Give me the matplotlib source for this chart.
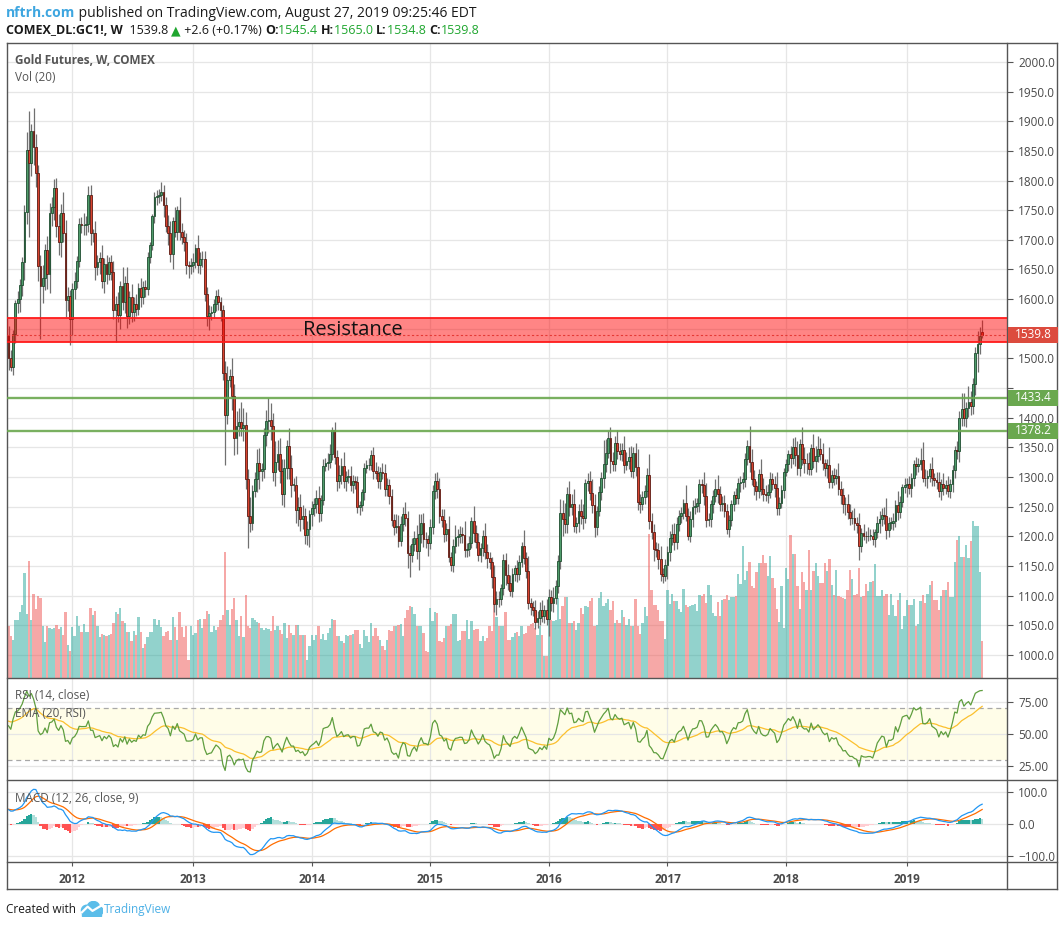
import numpy as np
import pandas as pd
import matplotlib
matplotlib.use("Agg")
import matplotlib.pyplot as plt
from matplotlib.lines import Line2D
from matplotlib.patches import Rectangle, Circle
from matplotlib.ticker import FuncFormatter
from matplotlib.transforms import blended_transform_factory

plt.rcParams["font.family"] = ["Open Sans", "DejaVu Sans"]

W, H = 1064, 926

# ---------------- data (weekly, COMEX gold continuous) ----------------
# history before the visible window, only used to warm up RSI / MACD
warmup_close = [1210, 1181, 1189, 1169, 1204, 1215, 1227, 1237, 1246, 1246,
                1275, 1297, 1317, 1346, 1370, 1325, 1358, 1394, 1366, 1353,
                1362, 1406, 1385, 1376, 1380, 1421, 1369, 1361, 1342, 1341,
                1348, 1360, 1388, 1409, 1429, 1421, 1418, 1428, 1429, 1474,
                1486, 1505, 1556, 1491, 1493, 1510, 1536, 1542, 1529, 1540]

close_2011 = [1500, 1486, 1542, 1594, 1601, 1624, 1663, 1747, 1852, 1829,
              1883, 1857, 1813, 1656, 1622, 1635, 1683, 1643, 1746, 1755,
              1788, 1724, 1697, 1746, 1711, 1598, 1606, 1566]
close_2012 = [1617, 1631, 1664, 1727, 1725, 1725, 1726, 1776, 1711, 1711,
              1655, 1662, 1669, 1631, 1659, 1642, 1663, 1645, 1581, 1592,
              1573, 1622, 1595, 1627, 1572, 1604, 1579, 1591, 1583, 1619,
              1603, 1620, 1617, 1671, 1691, 1740, 1772, 1774, 1776, 1780,
              1758, 1724, 1712, 1676, 1731, 1714, 1751, 1714, 1705, 1696,
              1657, 1656]
close_2013 = [1657, 1662, 1687, 1658, 1667, 1667, 1609, 1572, 1576, 1578,
              1592, 1605, 1596, 1581, 1476, 1405, 1463, 1470, 1437, 1365,
              1386, 1392, 1383, 1387, 1296, 1234, 1223, 1277, 1296, 1323,
              1310, 1313, 1371, 1395, 1396, 1386, 1308, 1326, 1338, 1310,
              1272, 1315, 1352, 1315, 1287, 1287, 1244, 1250, 1229, 1234,
              1203, 1213]
close_2014 = [1237, 1247, 1254, 1264, 1240, 1262, 1318, 1323, 1326, 1339,
              1379, 1334, 1294, 1303, 1318, 1293, 1300, 1302, 1287, 1293,
              1292, 1250, 1252, 1274, 1316, 1320, 1320, 1337, 1310, 1307,
              1294, 1309, 1306, 1280, 1287, 1268, 1228, 1215, 1218, 1192,
              1221, 1238, 1231, 1171, 1168, 1187, 1197, 1175, 1204, 1222,
              1196, 1195]
close_2015 = [1189, 1216, 1277, 1293, 1279, 1234, 1228, 1204, 1213, 1165,
              1152, 1184, 1199, 1201, 1204, 1203, 1177, 1179, 1189, 1225,
              1205, 1190, 1168, 1180, 1201, 1173, 1163, 1157, 1131, 1085,
              1095, 1094, 1113, 1160, 1134, 1121, 1108, 1137, 1146, 1137,
              1156, 1183, 1163, 1142, 1088, 1081, 1076, 1056, 1062, 1075,
              1065, 1076, 1061]
close_2016 = [1097, 1088, 1096, 1117, 1158, 1239, 1230, 1221, 1271, 1250,
              1254, 1218, 1222, 1243, 1235, 1231, 1290, 1294, 1273, 1252,
              1215, 1243, 1275, 1298, 1322, 1340, 1366, 1327, 1322, 1357,
              1344, 1339, 1345, 1321, 1327, 1333, 1310, 1341, 1317, 1258,
              1254, 1267, 1276, 1304, 1226, 1208, 1178, 1177, 1162, 1137,
              1133, 1152]
close_2017 = [1173, 1197, 1204, 1191, 1221, 1234, 1239, 1257, 1234, 1201,
              1230, 1249, 1251, 1257, 1288, 1287, 1268, 1228, 1229, 1254,
              1268, 1280, 1271, 1255, 1256, 1242, 1212, 1228, 1255, 1269,
              1264, 1290, 1291, 1297, 1330, 1352, 1325, 1297, 1284, 1276,
              1305, 1280, 1272, 1270, 1275, 1296, 1288, 1281, 1248, 1257,
              1278, 1309]
close_2018 = [1322, 1338, 1332, 1350, 1337, 1316, 1356, 1330, 1323, 1324,
              1313, 1349, 1327, 1336, 1347, 1338, 1323, 1315, 1320, 1291,
              1303, 1298, 1302, 1279, 1270, 1254, 1255, 1241, 1231, 1231,
              1223, 1219, 1184, 1206, 1201, 1200, 1201, 1201, 1196, 1207,
              1222, 1229, 1236, 1234, 1210, 1223, 1223, 1226, 1252, 1241,
              1258, 1283]
close_2019 = [1287, 1289, 1282, 1298, 1322, 1318, 1322, 1329, 1299, 1298,
              1302, 1313, 1298, 1295, 1291, 1276, 1288, 1281, 1287, 1276,
              1289, 1311, 1346, 1344, 1400, 1414, 1400, 1416, 1427, 1420,
              1457, 1509, 1524, 1537.2, 1539.8]

# upper / lower shadow beyond the body, in $
wick_up = [
    14, 14, 6, 4, 12, 10, 8, 12, 30, 65, 12, 40, 22, 14, 18, 22, 10, 24, 16, 18,
    14, 16, 20, 14, 34, 22, 14, 10,
    10, 14, 8, 10, 12, 20, 14, 14, 16, 8, 20, 12, 10, 22, 10, 16, 8, 12, 20, 14,
    20, 8, 32, 12, 28, 10, 22, 12, 18, 8, 16, 10, 12, 8, 6, 4, 8, 10, 10, 18,
    12, 14, 18, 20, 8, 24, 6, 22, 14, 12, 16, 8,
    12, 16, 6, 22, 12, 14, 14, 12, 14, 10, 8, 10, 12, 8, 9, 20, 24, 12, 30, 20,
    26, 24, 34, 30, 22, 18, 32, 10, 12, 25, 26, 10, 12, 18, 38, 28, 22, 34, 24, 28,
    20, 16, 10, 30, 22, 12, 14, 16, 22, 18, 14, 12,
    8, 12, 10, 14, 20, 8, 12, 9, 14, 16, 6, 13, 12, 18, 14, 24, 10, 12, 16, 10,
    8, 10, 8, 6, 8, 9, 12, 9, 14, 16, 12, 8, 14, 16, 12, 10, 12, 10, 20, 18,
    14, 12, 20, 12, 14, 10, 12, 22, 34, 16, 18, 12,
    8, 14, 10, 14, 16, 20, 12, 18, 10, 22, 8, 12, 20, 12, 14, 12, 22, 10, 12, 8,
    26, 14, 16, 8, 10, 22, 14, 10, 8, 20, 12, 12, 6, 10, 12, 20, 14, 10, 6, 14,
    12, 8, 28, 10, 24, 8, 10, 16, 12, 14, 18, 8, 18,
    14, 12, 18, 10, 10, 24, 22, 26, 12, 22, 18, 26, 10, 12, 20, 20, 6, 12, 16, 24,
    20, 8, 10, 10, 40, 24, 11, 18, 16, 12, 22, 14, 12, 24, 16, 18, 20, 10, 16, 30,
    14, 10, 10, 12, 34, 14, 12, 12, 12, 22, 10, 10,
    10, 12, 16, 18, 12, 10, 10, 6, 30, 14, 12, 12, 14, 8, 8, 8, 22, 22, 10, 8,
    10, 16, 24, 14, 12, 14, 12, 8, 6, 8, 12, 8, 10, 12, 10, 10, 34, 22, 14, 10,
    8, 26, 18, 14, 14, 12, 10, 14, 28, 10, 8, 6,
    8, 8, 14, 16, 18, 24, 8, 28, 20, 16, 18, 6, 24, 16, 22, 18, 20, 8, 10, 30,
    8, 12, 12, 22, 14, 12, 12, 16, 14, 14, 16, 10, 20, 8, 14, 8, 14, 12, 12, 6,
    12, 14, 12, 14, 30, 10, 10, 14, 10, 24, 10, 6,
    12, 10, 12, 8, 6, 12, 10, 20, 30, 14, 10, 10, 20, 8, 14, 18, 8, 18, 8, 14,
    8, 10, 6, 14, 12, 28, 28, 10, 26, 18, 10, 10, 22, 16, 0]
wick_dn = [
    20, 8, 14, 16, 18, 22, 18, 30, 20, 124, 22, 30, 24, 26, 90, 28, 20, 26, 32, 22,
    22, 20, 22, 26, 14, 28, 18, 43,
    26, 16, 12, 10, 14, 16, 16, 12, 20, 14, 22, 14, 20, 12, 20, 16, 10, 12, 14, 54,
    12, 24, 14, 18, 20, 14, 18, 16, 12, 10, 16, 12, 14, 10, 10, 8, 12, 14, 12, 10,
    20, 10, 20, 14, 26, 10, 14, 14, 12, 14, 14, 20,
    14, 12, 10, 14, 16, 12, 12, 18, 24, 12, 10, 12, 14, 18, 12, 84, 16, 12, 24, 28,
    26, 16, 14, 22, 16, 54, 16, 12, 10, 22, 30, 16, 14, 18, 20, 24, 14, 24, 14, 20,
    20, 22, 18, 18, 20, 10, 22, 26, 20, 16, 16, 18,
    31, 20, 12, 14, 16, 14, 10, 8, 12, 10, 10, 12, 18, 12, 14, 12, 16, 10, 10, 14,
    12, 10, 14, 10, 12, 10, 8, 8, 14, 10, 12, 14, 10, 12, 12, 14, 10, 12, 10, 10,
    8, 12, 14, 24, 36, 12, 12, 14, 32, 16, 14, 14,
    22, 10, 12, 14, 14, 12, 12, 14, 12, 8, 10, 12, 12, 16, 12, 14, 12, 12, 12, 8,
    14, 10, 10, 12, 14, 12, 16, 12, 18, 13, 18, 14, 10, 12, 16, 12, 8, 10, 12, 14,
    10, 8, 10, 12, 10, 14, 10, 12, 10, 12, 10, 12, 10,
    30, 14, 16, 10, 12, 14, 30, 16, 16, 16, 14, 10, 12, 14, 14, 18, 8, 14, 12, 12,
    16, 12, 8, 14, 16, 14, 8, 20, 12, 12, 14, 10, 12, 14, 10, 14, 10, 12, 16, 14,
    14, 10, 12, 10, 14, 12, 20, 12, 18, 13, 12, 8,
    24, 14, 12, 14, 12, 12, 12, 10, 8, 8, 10, 14, 12, 10, 16, 14, 16, 12, 10, 14,
    14, 10, 14, 12, 12, 10, 8, 14, 10, 12, 10, 10, 16, 12, 14, 10, 16, 10, 14, 14,
    12, 10, 12, 10, 14, 10, 10, 14, 12, 12, 10, 14,
    8, 12, 16, 10, 18, 12, 14, 10, 16, 18, 10, 10, 12, 18, 10, 10, 12, 14, 16, 10,
    10, 12, 10, 10, 16, 14, 18, 12, 12, 10, 12, 14, 24, 10, 8, 12, 8, 8, 10, 14,
    10, 16, 12, 14, 14, 12, 10, 12, 10, 14, 10, 8,
    10, 20, 10, 16, 14, 14, 10, 10, 8, 14, 16, 10, 14, 10, 12, 10, 14, 12, 10, 10,
    12, 14, 12, 14, 18, 14, 14, 16, 14, 16, 14, 18, 32, 16, 0]

# weekly volume (relative units)
vol_2011 = [52, 42, 38, 58, 58, 66, 73, 105, 64, 117, 58, 84, 69, 82, 80, 52,
            36, 52, 50, 49, 50, 53, 49, 51, 43, 66, 33, 27]
vol_2012 = [51, 42, 62, 52, 46, 54, 46, 46, 70, 63, 67, 52, 41, 44, 43, 42,
            43, 44, 55, 66, 64, 70, 57, 55, 46, 46, 37, 47, 43, 61, 46, 30,
            34, 41, 46, 46, 59, 53, 58, 51, 42, 46, 47, 38, 61, 51, 38, 66,
            51, 41, 52, 18]
vol_2013 = [52, 43, 45, 58, 59, 50, 59, 67, 64, 46, 52, 48, 51, 58, 63, 126,
            68, 53, 69, 80, 58, 42, 62, 41, 83, 52, 50, 60, 58, 56, 55, 50,
            48, 50, 49, 47, 62, 48, 52, 48, 44, 55, 40, 53, 45, 43, 53, 53,
            43, 43, 43, 18]
vol_2014 = [32, 43, 38, 43, 52, 39, 44, 38, 45, 50, 59, 58, 42, 42, 37, 35,
            43, 42, 43, 44, 48, 48, 34, 30, 48, 42, 36, 55, 42, 50, 42, 38,
            32, 28, 38, 48, 47, 52, 52, 53, 54, 42, 60, 68, 72, 71, 64, 52,
            52, 52, 45, 27]
vol_2015 = [26, 70, 57, 66, 65, 37, 36, 40, 52, 52, 54, 64, 64, 37, 38, 47,
            47, 58, 39, 57, 48, 49, 49, 37, 42, 37, 40, 52, 47, 73, 61, 52,
            52, 52, 66, 38, 38, 41, 45, 46, 42, 52, 44, 45, 52, 54, 55, 50,
            43, 52, 43, 22, 22]
vol_2016 = [59, 58, 57, 58, 80, 59, 72, 81, 81, 55, 55, 57, 48, 55, 70, 64,
            72, 71, 77, 80, 52, 53, 80, 86, 72, 75, 79, 68, 77, 55, 58, 55,
            68, 61, 53, 59, 52, 52, 79, 52, 44, 55, 71, 62, 144, 88, 73, 73,
            68, 57, 57, 39]
vol_2017 = [88, 74, 84, 77, 77, 69, 66, 89, 73, 71, 72, 73, 74, 67, 83, 82,
            84, 75, 93, 83, 65, 62, 76, 62, 78, 79, 83, 78, 81, 81, 82, 104,
            94, 132, 98, 107, 116, 92, 90, 106, 115, 115, 123, 115, 102, 122, 100, 90,
            69, 56, 92, 50]
vol_2018 = [110, 99, 143, 124, 124, 92, 69, 106, 96, 88, 128, 88, 107, 115, 102, 95,
            95, 115, 107, 119, 93, 83, 108, 82, 81, 80, 79, 88, 108, 99, 83, 84,
            110, 81, 82, 94, 87, 96, 97, 114, 82, 82, 88, 82, 84, 63, 84, 73,
            62, 78, 85, 49]
vol_2019 = [62, 78, 73, 73, 79, 52, 54, 77, 83, 75, 84, 93, 97, 78, 78, 68,
            82, 88, 88, 96, 81, 81, 116, 138, 142, 121, 121, 133, 120, 137, 157, 152,
            152, 106, 37]

# last (current) bar as shown in the header
last_open, last_high, last_low = 1545.4, 1565.0, 1534.8

resistance_zone = (1528, 1568)
support_levels = [1433.4, 1378.2]
price_ticks = np.arange(1000, 2001, 50)
rsi_ticks = [25, 50, 75]
macd_ticks = [-100, 0, 100]

# ---------------- prepare ----------------
close_list = (close_2011 + close_2012 + close_2013 + close_2014 + close_2015
              + close_2016 + close_2017 + close_2018 + close_2019)
volume = np.array(vol_2011 + vol_2012 + vol_2013 + vol_2014 + vol_2015
                  + vol_2016 + vol_2017 + vol_2018 + vol_2019, float)
n_warm = len(warmup_close)
full = np.array(warmup_close + close_list, float)
close = full[n_warm:]
n = len(close)
opens = full[n_warm - 1:-1].copy()
opens[-1] = last_open
highs = np.maximum(opens, close) + np.array(wick_up, float)
lows = np.minimum(opens, close) - np.array(wick_dn, float)
highs[-1], lows[-1] = last_high, last_low
x = np.arange(n)
dates = pd.date_range("2011-06-20", periods=n, freq="W-MON")
year_idx = [i for i in range(1, n) if dates[i].year != dates[i - 1].year]
year_lbl = [str(dates[i].year) for i in year_idx]

# RSI(14) with Wilder smoothing, EMA(20) of it
s = pd.Series(full)
d = s.diff()
gain = d.clip(lower=0).ewm(alpha=1 / 14, adjust=False).mean()
loss = (-d.clip(upper=0)).ewm(alpha=1 / 14, adjust=False).mean()
rsi_full = 100 - 100 / (1 + gain / loss)
rsi_ema_full = rsi_full.ewm(span=20, adjust=False).mean()
rsi = rsi_full.values[n_warm:]
rsi_ema = rsi_ema_full.values[n_warm:]

# MACD(12, 26, 9)
macd_full = s.ewm(span=12, adjust=False).mean() - s.ewm(span=26, adjust=False).mean()
signal_full = macd_full.ewm(span=9, adjust=False).mean()
hist_full = macd_full - signal_full
macd = macd_full.values[n_warm:]
signal = signal_full.values[n_warm:]
hist = hist_full.values[n_warm:]
hist_prev = hist_full.values[n_warm - 1:-1]

# ---------------- figure ----------------
fig = plt.figure(figsize=(W / 100, H / 100), dpi=100, facecolor="white")

grid_c = "#e6e6e6"
frame_c = "#555555"
label_c = "#4a4a4a"
xlim = (-0.66, 437.9)


def rect(top, bottom):
    return [7 / W, 1 - bottom / H, 1000 / W, (bottom - top) / H]


def clean(ax):
    for sp in ax.spines.values():
        sp.set_visible(False)
    ax.set_xlim(*xlim)


ax_g = fig.add_axes(rect(43, 678), zorder=0)
ax_v = fig.add_axes(rect(43, 678), zorder=1)
ax_p = fig.add_axes(rect(43, 678), zorder=2)
ax_r = fig.add_axes(rect(678, 780))
ax_m = fig.add_axes(rect(780, 862))

# grid layer
clean(ax_g)
ax_g.set_ylim(961, 2032)
for p in price_ticks:
    ax_g.axhline(p, color=grid_c, lw=0.9)
for yi in year_idx:
    ax_g.axvline(yi, color=grid_c, lw=0.9)
ax_g.set_xticks([])
ax_g.set_yticks([])

# volume layer
clean(ax_v)
ax_v.patch.set_visible(False)
ax_v.set_ylim(0, 635)
is_up = close >= opens
vol_col = np.where(is_up, "#26a69a", "#ef5350")
ax_v.bar(x, volume, width=1.0, color=vol_col, alpha=0.5, linewidth=0)
ax_v.set_xticks([])
ax_v.set_yticks([])

# price layer
clean(ax_p)
ax_p.patch.set_visible(False)
ax_p.set_ylim(961, 2032)
ax_p.vlines(x, lows, highs, colors="#707070", lw=0.9, zorder=2)
body_lo = np.minimum(opens, close)
body_h = np.maximum(np.abs(close - opens), 0.6)
ax_p.bar(x, body_h, bottom=body_lo, width=0.8,
         color=np.where(is_up, "#4f9c6b", "#d9432f"),
         edgecolor=np.where(is_up, "#1f4d30", "#5c1a12"),
         linewidth=0.6, zorder=3)

ax_p.axhspan(*resistance_zone, facecolor="#ff0000", alpha=0.48, lw=0, zorder=4)
for lvl in resistance_zone:
    ax_p.axhline(lvl, color="#ff1a1a", lw=1.3, zorder=5)
ax_p.axhline(close[-1], color="#e53935", lw=0.8, ls=(0, (2, 2)), zorder=5)
ax_p.text(151, sum(resistance_zone) / 2, "Resistance", fontsize=14.5,
          color="#111111", ha="center", va="center", zorder=6)
for lvl in support_levels:
    ax_p.axhline(lvl, color="#6aa84f", lw=1.7, alpha=0.9, zorder=5)

# price scale; the labels that sit under the tags are left blank
hidden = (1550, 1450)
ax_p.yaxis.tick_right()
ax_p.set_yticks(price_ticks)
ax_p.yaxis.set_major_formatter(
    FuncFormatter(lambda v, _: "" if round(v) in hidden else f"{v:.1f}"))
ax_p.tick_params(axis="y", length=4, width=0.8, color=frame_c,
                 labelcolor=label_c, labelsize=8.5, pad=4)
ax_p.set_xticks([])

# right-axis price tags
tag_tr = blended_transform_factory(ax_p.transAxes, ax_p.transData)
for lvl, fc in [(close[-1], "#dc4b3e"), (support_levels[0], "#6aa84f"),
                (support_levels[1], "#6aa84f")]:
    ax_p.add_patch(Rectangle((1.001, lvl - 13.5), 0.05, 27, transform=tag_tr,
                             facecolor=fc, edgecolor="none", clip_on=False,
                             zorder=7))
    ax_p.text(1.026, lvl, f"{lvl:.1f}", transform=tag_tr, color="white",
              fontsize=8.5, ha="center", va="center", clip_on=False, zorder=8)

ax_p.text(8 / 1000, 0.973, "Gold Futures, W, COMEX",
          transform=ax_p.transAxes, fontsize=8.5, fontweight="bold",
          color="#555555", va="center")
ax_p.text(8 / 1000, 0.946, "Vol (20)", transform=ax_p.transAxes,
          fontsize=8.5, color="#555555", va="center")

# RSI panel
clean(ax_r)
ax_r.set_ylim(14.1, 93.75)
ax_r.axhspan(30, 70, facecolor="#fffde8", lw=0, zorder=0)
for v in rsi_ticks:
    ax_r.axhline(v, color=grid_c, lw=0.9, zorder=0.5)
for yi in year_idx:
    ax_r.axvline(yi, color=grid_c, lw=0.9, zorder=0.5)
for v in (30, 70):
    ax_r.axhline(v, color="#a8a8a8", lw=0.9, ls=(0, (4, 3)), zorder=1)
ax_r.plot(x, rsi, color="#5f9e3f", lw=0.9, zorder=3)
ax_r.plot(x, rsi_ema, color="#fbc02d", lw=0.9, zorder=2)
ax_r.yaxis.tick_right()
ax_r.set_yticks(rsi_ticks)
ax_r.yaxis.set_major_formatter(FuncFormatter(lambda v, _: f"{v:.2f}"))
ax_r.tick_params(axis="y", length=4, width=0.8, color=frame_c,
                 labelcolor=label_c, labelsize=8.5, pad=4)
ax_r.set_xticks([])
ax_r.text(8 / 1000, 0.83, "RSI (14, close)", transform=ax_r.transAxes,
          fontsize=8.5, color="#555555", va="center")
ax_r.text(8 / 1000, 0.655, "EMA (20, RSI)", transform=ax_r.transAxes,
          fontsize=8.5, color="#555555", va="center")

# MACD panel
clean(ax_m)
ax_m.set_ylim(-118.75, 137.5)
for v in macd_ticks:
    ax_m.axhline(v, color=grid_c, lw=0.9, zorder=0)
for yi in year_idx:
    ax_m.axvline(yi, color=grid_c, lw=0.9, zorder=0)
hist_col = np.where(hist >= 0,
                    np.where(hist > hist_prev, "#26a69a", "#b2dfdb"),
                    np.where(hist < hist_prev, "#ff5252", "#ffcdd2"))
ax_m.bar(x, hist, width=1.0, color=hist_col, linewidth=0, zorder=1)
ax_m.plot(x, macd, color="#2196f3", lw=0.9, zorder=3)
ax_m.plot(x, signal, color="#ff6d00", lw=0.9, zorder=2)
ax_m.yaxis.tick_right()
ax_m.set_yticks(macd_ticks)
ax_m.yaxis.set_major_formatter(
    FuncFormatter(lambda v, _: f"{v:.1f}".replace("-", "\u2212")))
ax_m.tick_params(axis="y", length=4, width=0.8, color=frame_c,
                 labelcolor=label_c, labelsize=8.5, pad=4)
ax_m.set_xticks(year_idx)
ax_m.set_xticklabels(year_lbl)
ax_m.tick_params(axis="x", length=3, width=0.8, color=frame_c,
                 labelcolor=label_c, labelsize=8.5, pad=5)
for lbl in ax_m.get_xticklabels():
    lbl.set_fontweight("bold")
ax_m.text(8 / 1000, 0.78, "MACD (12, 26, close, 9)", transform=ax_m.transAxes,
          fontsize=8.5, color="#555555", va="center")

# frame
segments = [((7, 43), (1057, 43)), ((7, 43), (7, 889)), ((1057, 43), (1057, 889)),
            ((7, 889), (1057, 889)), ((7, 678), (1057, 678)),
            ((7, 780), (1057, 780)), ((7, 862), (1057, 862)),
            ((1007, 43), (1007, 889))]
for (x0, y0), (x1, y1) in segments:
    fig.add_artist(Line2D([x0 / W, x1 / W], [1 - y0 / H, 1 - y1 / H],
                          color=frame_c, lw=1.0))

# header and footer text, laid out piece by piece
renderer = fig.canvas.get_renderer()


def text_run(pieces, x_px, y_px, size):
    for s_, color, weight in pieces:
        t = fig.text(x_px / W, 1 - y_px / H, s_, color=color, fontsize=size,
                     fontweight=weight, va="baseline", ha="left")
        x_px += t.get_window_extent(renderer=renderer).width
    return x_px


green = "#1fa62f"
dark = "#1a1a1a"
chg = close[-1] - close[-2]
pct = chg / close[-2] * 100
text_run([("nftrh.com", "#3ea6e0", "bold"),
          (" published on TradingView.com, August 27, 2019 09:25:46 EDT", dark, "normal")],
         6, 17, 10)
text_run([("COMEX_DL:GC1!, W", dark, "bold"),
          (f"  {close[-1]:.1f} ", dark, "normal"),
          ("\u25b2", green, "normal"),
          (f" {chg:+.1f} ({pct:+.2f}%) ", dark, "normal"),
          ("O:", dark, "bold"), (f"{last_open:.1f} ", green, "normal"),
          ("H:", dark, "bold"), (f"{last_high:.1f} ", green, "normal"),
          ("L:", dark, "bold"), (f"{last_low:.1f} ", green, "normal"),
          ("C:", dark, "bold"), (f"{close[-1]:.1f}", green, "normal")],
         6, 34, 9)
x_end = text_run([("Created with ", dark, "normal")], 6, 913, 8.5)

# small cloud logo
ax_logo = fig.add_axes([(x_end + 1) / W, 1 - 917 / H, 23 / W, 16 / H])
ax_logo.set_xlim(0, 24)
ax_logo.set_ylim(0, 17)
ax_logo.axis("off")
logo_c = "#5bbde9"
for cx, cy, r in [(7, 7, 5.5), (14, 10, 6.5), (19.5, 6.5, 4.5)]:
    ax_logo.add_patch(Circle((cx, cy), r, color=logo_c))
ax_logo.add_patch(Rectangle((2, 1.5), 20, 5, color=logo_c))
ax_logo.plot([2, 8, 13, 22], [5, 11, 6.5, 12], color="white", lw=1.6)
text_run([("TradingView", "#4cb0e6", "normal")], x_end + 25, 913, 8.5)

fig.savefig("out.png", dpi=100, facecolor="white")
